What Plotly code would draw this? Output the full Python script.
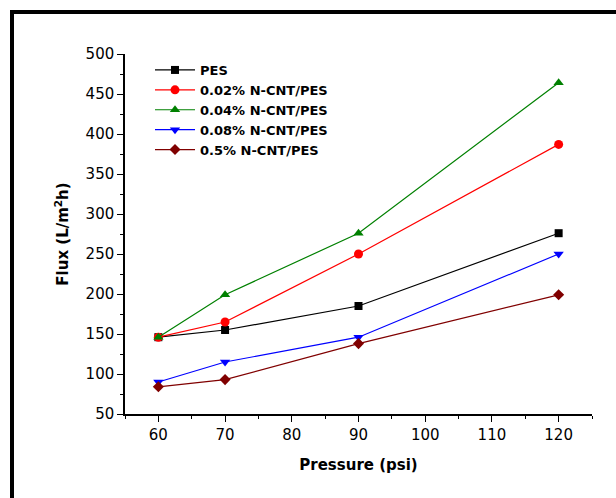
import plotly.graph_objects as go

pressure = [60, 70, 90, 120]
series_names = ["PES", "0.02% N-CNT/PES", "0.04% N-CNT/PES", "0.08% N-CNT/PES", "0.5% N-CNT/PES"]
flux_pes = [146, 155, 185, 276]
flux_002 = [146, 165, 250, 387]
flux_004 = [146, 199, 276, 464]
flux_008 = [90, 115, 146, 250]
flux_05 = [84, 93, 138, 199]

colors = ["#000000", "#FF0000", "#008000", "#0000FF", "#800000"]
symbols = ["square", "circle", "triangle-up", "triangle-down", "diamond"]
sizes = [8, 9, 9, 9, 8.5]
data = [flux_pes, flux_002, flux_004, flux_008, flux_05]

fig = go.Figure()
for name, ys, c, s, sz in zip(series_names, data, colors, symbols, sizes):
    fig.add_trace(go.Scatter(
        x=pressure, y=ys, name=name, mode="lines+markers",
        line=dict(color=c, width=1.2),
        marker=dict(color=c, symbol=s, size=sz, line=dict(width=0)),
    ))

W, H = 616, 498
L, R, T, B = 125, 24, 54, 84
pw, ph = W - L - R, H - T - B

def px_x(px):
    return (px - L) / pw

def px_y(py):
    return (H - B - py) / ph

fig.add_shape(type="rect", xref="paper", yref="paper",
              x0=px_x(12), x1=px_x(640), y0=px_y(520), y1=px_y(12),
              line=dict(color="black", width=4), fillcolor="rgba(0,0,0,0)")

axis_common = dict(
    showgrid=False, zeroline=False, showline=True, linecolor="black", linewidth=1.5,
    ticks="outside", ticklen=6, tickwidth=1.2, tickcolor="black",
    tickfont=dict(family="DejaVu Sans", size=15, color="black"),
)

fig.update_xaxes(
    range=[55, 125], tickmode="array", tickvals=[60, 70, 80, 90, 100, 110, 120],
    minor=dict(tickvals=[55, 65, 75, 85, 95, 105, 115, 125], ticks="outside", ticklen=3, tickcolor="black", tickwidth=1.2),
    title=dict(text="Pressure (psi)", font=dict(family="DejaVu Sans", size=15, color="black", weight="bold"), standoff=17),
    **axis_common,
)
fig.update_yaxes(
    range=[50, 500], tickmode="array", tickvals=[50, 100, 150, 200, 250, 300, 350, 400, 450, 500],
    minor=dict(tickvals=[75, 125, 175, 225, 275, 325, 375, 425, 475], ticks="outside", ticklen=3, tickcolor="black", tickwidth=1.2),
    title=dict(text="Flux (L/m<sup>2</sup>h)", font=dict(family="DejaVu Sans", size=15, color="black", weight="bold"), standoff=13),
    **axis_common,
)

fig.update_layout(
    width=W, height=H,
    margin=dict(l=L, r=R, t=T, b=B, autoexpand=False),
    paper_bgcolor="white", plot_bgcolor="white",
    showlegend=True,
    legend=dict(
        x=px_x(150), y=px_y(55), xanchor="left", yanchor="top",
        bgcolor="rgba(0,0,0,0)", borderwidth=0,
        font=dict(family="DejaVu Sans", size=13, color="black", weight="bold"),
        tracegroupgap=0, itemwidth=40,
    ),
)

fig.write_html("out.html", config={"displayModeBar": False},
               post_script="document.body.style.margin='0';document.body.style.overflow='hidden';")
